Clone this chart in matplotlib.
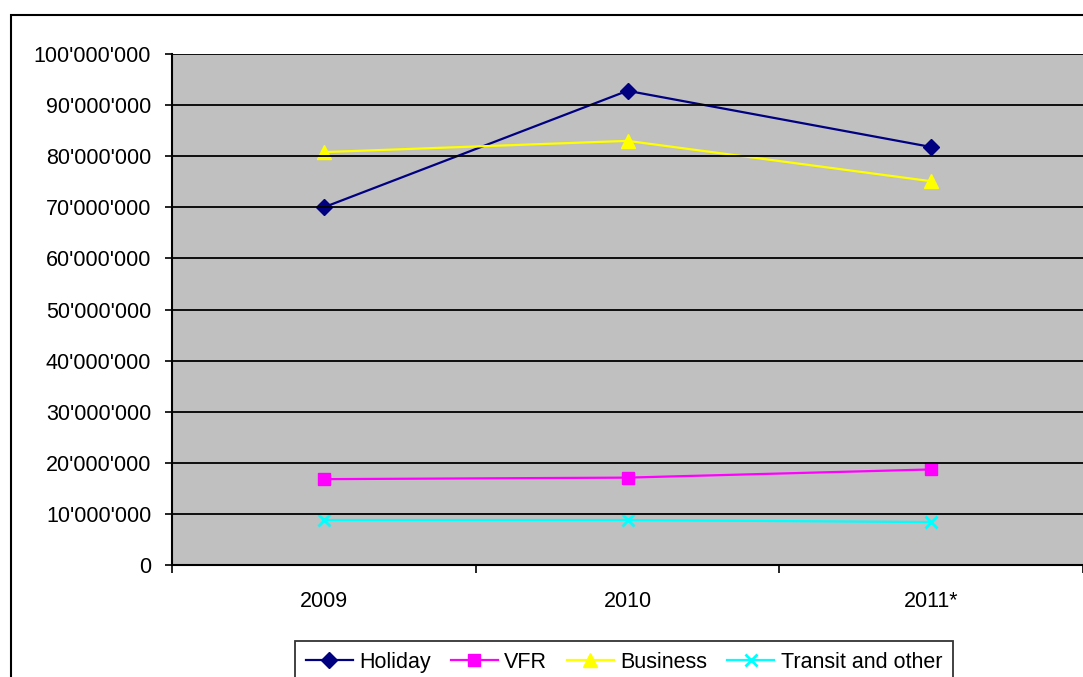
import matplotlib.pyplot as plt
import matplotlib.patches as mpatches
from matplotlib.ticker import FuncFormatter, FixedLocator
import numpy as np

plt.rcParams['font.family'] = ['Liberation Sans', 'DejaVu Sans']

years = ['2009', '2010', '2011*']
holiday = [70.0e6, 92.8e6, 81.8e6]
vfr = [16.8e6, 17.1e6, 18.7e6]
business = [80.8e6, 83.0e6, 75.1e6]
transit = [8.8e6, 8.8e6, 8.4e6]

W, H = 1083, 677
fig = plt.figure(figsize=(W / 100, H / 100), dpi=100)

# outer chart border (cut off on right and bottom)
fig.patches.append(mpatches.Rectangle((11 / W, -0.1), 1.2, (H - 15) / H + 0.1,
                                      transform=fig.transFigure, fill=False,
                                      edgecolor='black', linewidth=1.5))

ax = fig.add_axes([172 / W, (H - 565) / H, (W - 172) / W, (565 - 54) / H])
ax.set_facecolor('#c0c0c0')

x = np.arange(len(years)) + 0.5
ax.plot(x, holiday, color='#000080', lw=1.6, marker='D', ms=8, label='Holiday')
ax.plot(x, vfr, color='#ff00ff', lw=1.6, marker='s', ms=8, label='VFR')
ax.plot(x, business, color='#ffff00', lw=1.6, marker='^', ms=10, label='Business')
ax.plot(x, transit, color='#00ffff', lw=1.6, marker='x', ms=8, mew=2, label='Transit and other')

ax.set_xlim(0, 3)
ax.set_ylim(0, 100e6)
ax.yaxis.set_major_locator(FixedLocator(np.arange(0, 100e6 + 1, 10e6)))
ax.yaxis.set_major_formatter(FuncFormatter(lambda v, p: f"{int(v):,}".replace(',', "'")))
ax.grid(axis='y', color='black', lw=1.3)
ax.set_axisbelow(False)

ax.set_xticks([0, 1, 2, 3])
ax.set_xticklabels([])
ax.set_xticks(x, minor=True)
ax.set_xticklabels(years, minor=True)
ax.tick_params(axis='x', which='major', length=6, width=1.2, direction='out')
ax.tick_params(axis='x', which='minor', length=0, pad=19, labelsize=15.5)
ax.tick_params(axis='y', length=5, width=1.2, pad=10, labelsize=15.5)

for s in ['top', 'right']:
    ax.spines[s].set_visible(False)
ax.spines['left'].set_linewidth(1.5)
ax.spines['bottom'].set_linewidth(1.5)

leg = ax.legend(loc='upper left', bbox_to_anchor=(295 / W, (H - 641) / H),
                bbox_transform=fig.transFigure, ncol=4, frameon=True,
                fancybox=False, edgecolor='black', fontsize=15.5,
                handlelength=2.2, handletextpad=0.3, columnspacing=0.9,
                borderpad=0.5, borderaxespad=0)
leg.get_frame().set_linewidth(1.3)

fig.savefig('out.png', dpi=100)
